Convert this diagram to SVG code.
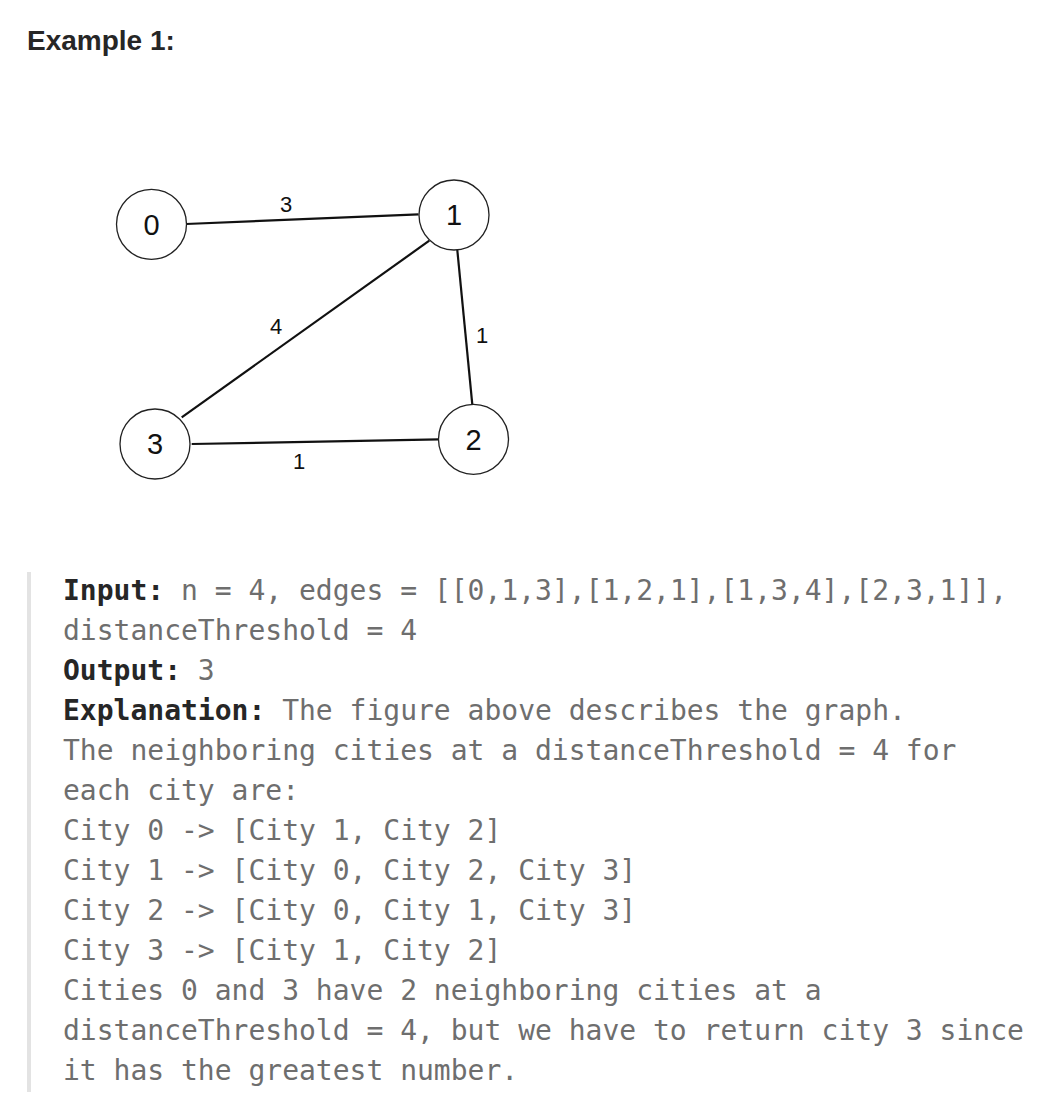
<svg xmlns="http://www.w3.org/2000/svg" width="1042" height="1108" viewBox="0 0 1042 1108">
<style>
.title{font-family:"Liberation Sans",Arial,sans-serif;font-weight:bold;font-size:28px;fill:#262626}
.node circle{fill:#fff;stroke:#222;stroke-width:1.3}
.node text{font-family:"Liberation Sans",Arial,sans-serif;font-size:29px;fill:#111;text-anchor:middle}
.edges line{stroke:#111;stroke-width:2.2}
.elabel{font-family:"Liberation Sans",Arial,sans-serif;font-size:22px;fill:#111;text-anchor:middle}
.code{font-family:"DejaVu Sans Mono",monospace;font-size:28px;fill:#6e6e6e}
.code .b{font-weight:bold;fill:#262626}
</style>
<rect width="1042" height="1108" fill="#fff"/>
<text class="title" x="27" y="50">Example 1:</text>
<g class="edges" id="edges">
<line x1="186" y1="224" x2="418.5" y2="214.3"/>
<line x1="457.3" y1="250" x2="472.3" y2="404.3"/>
<line x1="429.3" y1="240.7" x2="181.7" y2="417.3"/>
<line x1="191.7" y1="444" x2="439.3" y2="439.3"/>
<text class="elabel" x="286" y="212">3</text>
<text class="elabel" x="482" y="343">1</text>
<text class="elabel" x="276" y="334">4</text>
<text class="elabel" x="299" y="469">1</text>
</g>
<g class="node" id="node0"><circle cx="151.5" cy="224.3" r="35"/><text x="151.5" y="234.5">0</text></g>
<g class="node" id="node1"><circle cx="454" cy="215" r="35"/><text x="454" y="225.2">1</text></g>
<g class="node" id="node2"><circle cx="473.5" cy="439.3" r="35"/><text x="473.5" y="449.5">2</text></g>
<g class="node" id="node3"><circle cx="155" cy="444" r="35"/><text x="155" y="454.2">3</text></g>
<rect x="27" y="572" width="4" height="520" fill="#e3e3e3"/>
<g class="code">
<text x="63" y="600"><tspan class="b">Input:</tspan> n = 4, edges = [[0,1,3],[1,2,1],[1,3,4],[2,3,1]],</text>
<text x="63" y="640">distanceThreshold = 4</text>
<text x="63" y="680"><tspan class="b">Output:</tspan> 3</text>
<text x="63" y="720"><tspan class="b">Explanation:</tspan> The figure above describes the graph.</text>
<text x="63" y="760">The neighboring cities at a distanceThreshold = 4 for</text>
<text x="63" y="800">each city are:</text>
<text x="63" y="840">City 0 -&gt; [City 1, City 2]</text>
<text x="63" y="880">City 1 -&gt; [City 0, City 2, City 3]</text>
<text x="63" y="920">City 2 -&gt; [City 0, City 1, City 3]</text>
<text x="63" y="960">City 3 -&gt; [City 1, City 2]</text>
<text x="63" y="1000">Cities 0 and 3 have 2 neighboring cities at a</text>
<text x="63" y="1040">distanceThreshold = 4, but we have to return city 3 since</text>
<text x="63" y="1080">it has the greatest number.</text>
</g>
</svg>
